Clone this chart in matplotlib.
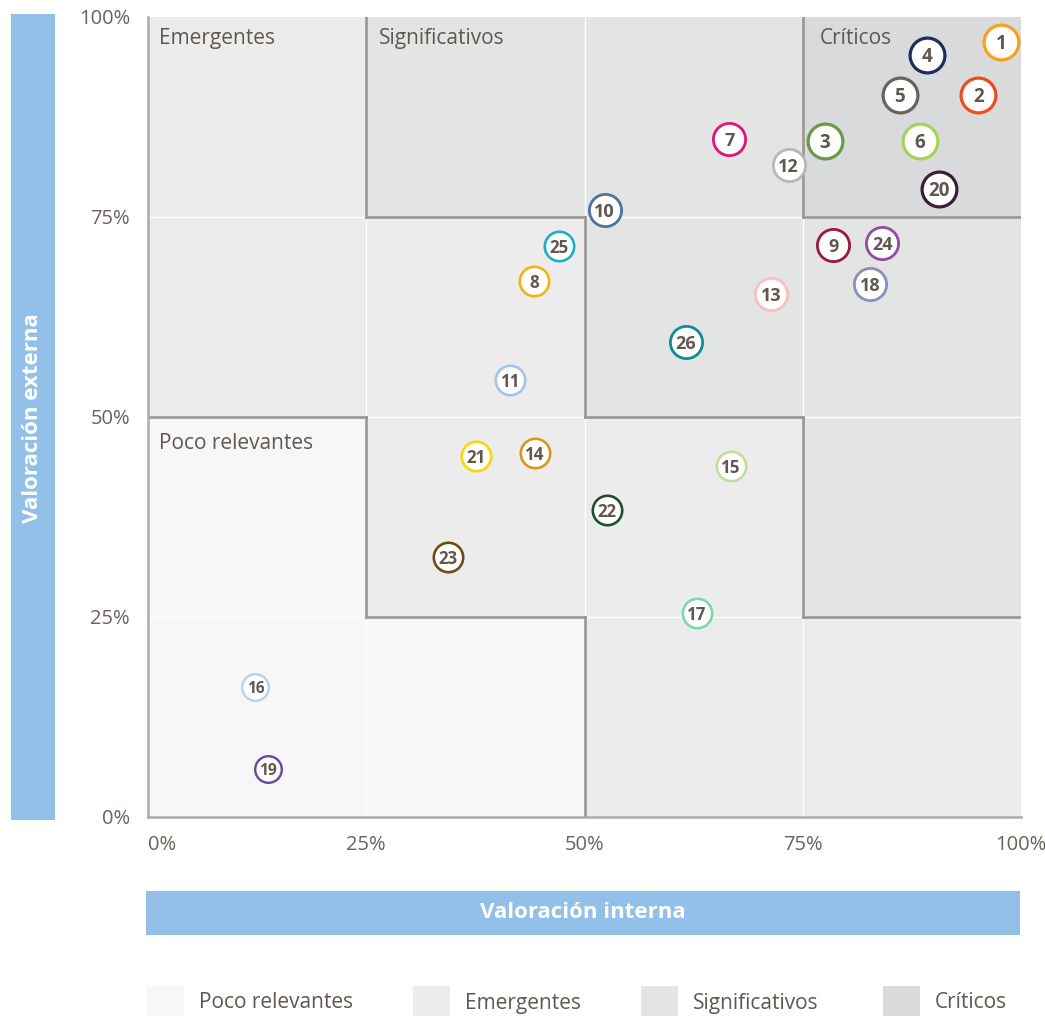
import matplotlib
matplotlib.use("Agg")
import matplotlib.pyplot as plt
from matplotlib.patches import Rectangle

plt.rcParams['font.family'] = ['Open Sans', 'DejaVu Sans']

# datos: valoracion interna (x) / externa (y) en %
ids = [1, 2, 3, 4, 5, 6, 7, 8, 9, 10, 11, 12, 13,
       14, 15, 16, 17, 18, 19, 20, 21, 22, 23, 24, 25, 26]
interna = [97.7, 95.1, 77.5, 89.2, 86.1, 88.4, 66.6, 44.2, 78.5, 52.3, 41.5, 73.4, 71.4,
           44.3, 66.8, 12.3, 62.9, 82.7, 13.7, 90.6, 37.6, 52.6, 34.4, 84.1, 47.1, 61.6]
externa = [96.9, 90.3, 84.5, 95.3, 90.3, 84.5, 84.8, 67.0, 71.5, 75.9, 54.6, 81.5, 65.4,
           45.5, 43.9, 16.3, 25.5, 66.6, 6.0, 78.5, 45.1, 38.4, 32.5, 71.8, 71.4, 59.4]
colores = ['#f9a11b', '#f24a1d', '#6a9a48', '#1e2c5e', '#6b635b', '#a5d35a', '#e0157b',
           '#f5b112', '#9a1b38', '#4f73a0', '#a3c4ea', '#b8b8b8', '#f6c1be',
           '#d9981a', '#bfdd9c', '#b5d2f0', '#7fd9a6', '#8b8fbd', '#6a4b9b', '#3a1f35',
           '#ffd600', '#1f4d2f', '#6f4b13', '#954c9e', '#19b0c8', '#0f8d93']

zonas = ['Poco relevantes', 'Emergentes', 'Significativos', 'Críticos']
# matriz de zonas, filas de arriba (75-100%) a abajo (0-25%)
matriz = [['Emergentes', 'Significativos', 'Significativos', 'Críticos'],
          ['Emergentes', 'Emergentes', 'Significativos', 'Significativos'],
          ['Poco relevantes', 'Emergentes', 'Emergentes', 'Significativos'],
          ['Poco relevantes', 'Poco relevantes', 'Emergentes', 'Emergentes']]

# estilos
fondo = {'Poco relevantes': '#f7f7f7', 'Emergentes': '#ebeceb',
         'Significativos': '#e3e4e4', 'Críticos': '#d9dadb'}
tier = {1: 'L', 2: 'L', 3: 'L', 4: 'L', 5: 'L', 6: 'L', 20: 'L',
        7: 'M', 10: 'M', 12: 'M', 13: 'M', 26: 'M', 9: 'M', 24: 'M', 18: 'M',
        16: 'XS', 19: 'XS'}
# diametro exterior px, borde px, fuente pt
tier_style = {'L': (38, 3.2, 13.5), 'M': (35, 2.8, 13), 'S': (32, 2.6, 12.2), 'XS': (29, 2.4, 11.2)}
gris = '#5f5750'
linea = '#9b9690'

W, H = 1045, 1016
fig = plt.figure(figsize=(W / 100, H / 100), dpi=100)
ax = fig.add_axes([148 / W, (H - 817) / H, 873 / W, 800 / H])

for r, fila in enumerate(matriz):
    for c, z in enumerate(fila):
        ax.add_patch(Rectangle((c * 25, 75 - r * 25), 25, 25, facecolor=fondo[z],
                               edgecolor='none', zorder=0))

# lineas blancas de la cuadricula
for v in [25, 50, 75]:
    ax.axvline(v, color='white', lw=1, zorder=1)
    ax.axhline(v, color='white', lw=1, zorder=1)

# fronteras entre zonas
for r in range(4):
    for c in range(4):
        y0 = 75 - r * 25
        if c < 3 and matriz[r][c] != matriz[r][c + 1]:
            ax.plot([(c + 1) * 25] * 2, [y0, y0 + 25], color=linea, lw=1.9,
                    solid_capstyle='projecting', zorder=2)
        if r < 3 and matriz[r][c] != matriz[r + 1][c]:
            ax.plot([c * 25, c * 25 + 25], [y0] * 2, color=linea, lw=1.9,
                    solid_capstyle='projecting', zorder=2)

etiquetas = {'Emergentes': (1.3, 97.3), 'Significativos': (26.5, 97.3),
             'Críticos': (77.0, 97.3), 'Poco relevantes': (1.3, 46.7)}
for z, (x, y) in etiquetas.items():
    ax.text(x, y, z, ha='left', va='center', fontsize=15, color=gris, zorder=3)

for i, x, y, col in zip(ids, interna, externa, colores):
    d, lw, fs = tier_style[tier.get(i, 'S')]
    lw_pt = lw * 0.72
    s = (d * 0.72 - lw_pt) ** 2
    ax.scatter(x, y, s=s, facecolor='white', edgecolor=col, linewidths=lw_pt, zorder=4,
               clip_on=False)
    ax.text(x, y, str(i), ha='center', va='center_baseline', fontsize=fs,
            fontweight='bold', color=gris, zorder=5)

ax.set_xlim(0, 100)
ax.set_ylim(0, 100)
ticks = [0, 25, 50, 75, 100]
ax.set_xticks(ticks)
ax.set_yticks(ticks)
ax.set_xticklabels([f'{t}%' for t in ticks])
ax.set_yticklabels([f'{t}%' for t in ticks])
ax.get_xticklabels()[0].set_horizontalalignment('left')
ax.tick_params(length=0, labelsize=14.5, labelcolor='#6a625b')
ax.tick_params(axis='x', pad=13)
ax.tick_params(axis='y', pad=13)
for s in ['top', 'right']:
    ax.spines[s].set_visible(False)
for s in ['left', 'bottom']:
    ax.spines[s].set_color('#aeaba7')
    ax.spines[s].set_linewidth(1.8)
    ax.spines[s].set_zorder(6)

# barras de titulo de ejes
azul = '#93c0e8'
fig.patches.append(Rectangle((11 / W, (H - 820) / H), 44 / W, 806 / H, facecolor=azul,
                             edgecolor='none', transform=fig.transFigure))
fig.text(33 / W, (H - 418) / H, 'Valoración externa', rotation=90, ha='center',
         va='center', color='white', fontsize=16, fontweight='bold')
fig.patches.append(Rectangle((146 / W, (H - 935) / H), 874 / W, 44 / H, facecolor=azul,
                             edgecolor='none', transform=fig.transFigure))
fig.text(583 / W, (H - 913) / H, 'Valoración interna', ha='center', va='center',
         color='white', fontsize=16, fontweight='bold')

# leyenda
leg_x = [147, 413, 641, 883]
for z, lx in zip(zonas, leg_x):
    fig.patches.append(Rectangle((lx / W, 0), 37 / W, 30 / H, facecolor=fondo[z],
                                 edgecolor='none', transform=fig.transFigure))
    fig.text((lx + 52) / W, (H - 1003) / H, z, ha='left', va='center', color=gris,
             fontsize=15)

fig.savefig('out.png', dpi=100)
